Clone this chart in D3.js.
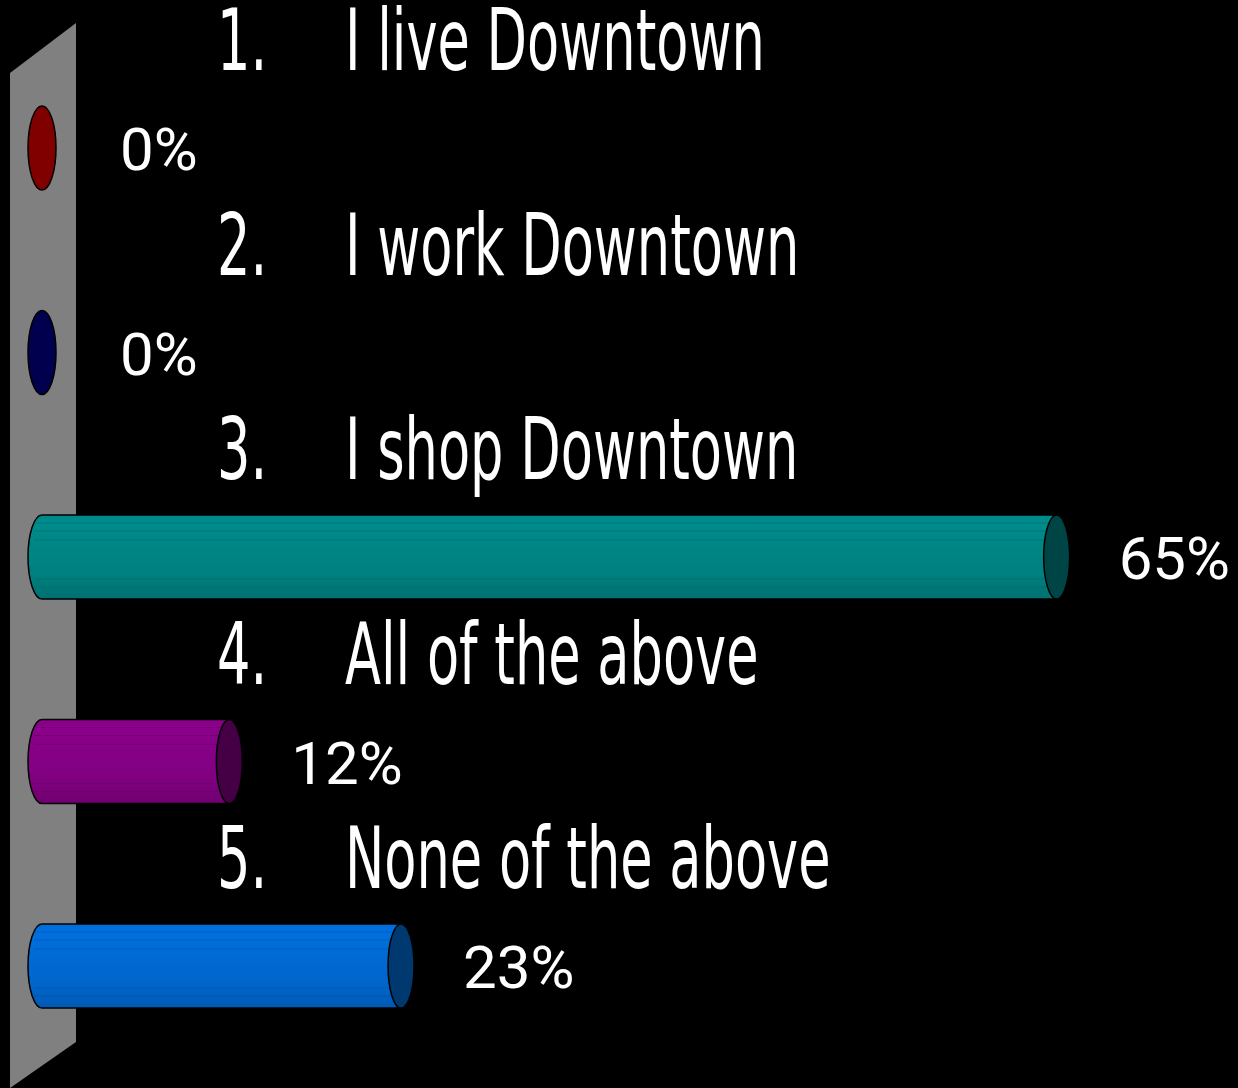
<!DOCTYPE html>
<html>
<head>
<meta charset="utf-8">
<script src="https://cdn.jsdelivr.net/npm/d3@7.9.0/dist/d3.min.js"></script>
<style>
  html, body { margin: 0; padding: 0; background: #000; }
  svg { display: block; }
</style>
</head>
<body>
<div id="chart"></div>
<script>
// ---- data ----
const numbers = ["1.", "2.", "3.", "4.", "5."];
const categories = ["I live Downtown", "I work Downtown", "I shop Downtown", "All of the above", "None of the above"];
const values = [0, 0, 65, 12, 23];
const bodyColors = ["#800000", "#00004f", "#008080", "#800080", "#0066cc"];
const capColors = ["#800000", "#00004f", "#004545", "#450045", "#003870"];

// ---- layout ----
const width = 1238, height = 1088;
const ry = 42, rx = 13;

const svg = d3.select("#chart").append("svg")
  .attr("width", width)
  .attr("height", height)
  .style("background", "#000");

const x = d3.scaleLinear().domain([0, 100]).range([42, 1603]);
const y = d3.scaleBand().domain(categories).range([45.75, 1068.25]);
const cy = c => y(c) + y.bandwidth() / 2;

// grey back wall
svg.append("polygon")
  .attr("points", [[10, 73], [76, 23], [76, 1042], [10, 1088]].map(p => p.join(",")).join(" "))
  .attr("fill", "#808080");

// gradients for cylinder bodies (banded look)
const defs = svg.append("defs");
bodyColors.forEach((col, i) => {
  const c = d3.color(col);
  const g = defs.append("linearGradient")
    .attr("id", "grad" + i)
    .attr("x1", 0).attr("y1", 0).attr("x2", 0).attr("y2", 1);
  const stops = [
    [0, c.brighter(0.15)], [0.08, c.brighter(0.25)], [0.4, c.brighter(0.1)],
    [0.7, c], [1, c.darker(0.35)]
  ];
  stops.forEach(([o, cc]) => g.append("stop").attr("offset", o).attr("stop-color", cc.formatHex()));
});

const rows = categories.map((c, i) => ({ cat: c, num: numbers[i], value: values[i], i }));

const bars = svg.append("g").selectAll("g.bar")
  .data(rows)
  .join("g")
  .attr("class", "bar");

// body
bars.filter(d => d.value > 0).append("path")
  .attr("d", d => {
    const x0 = x(0), x1 = x(d.value), t = cy(d.cat) - ry, b = cy(d.cat) + ry;
    return `M${x0},${t} L${x1},${t} L${x1},${b} L${x0},${b} A${14},${ry} 0 0 1 ${x0},${t} Z`;
  })
  .attr("fill", d => `url(#grad${d.i})`)
  .attr("stroke", "#000")
  .attr("stroke-width", 1.5);

// faint band lines on body
const bandOffsets = [-34, -26, -17, 22, 30];
bars.filter(d => d.value > 0).each(function (d) {
  d3.select(this).selectAll("line.band")
    .data(bandOffsets)
    .join("line")
    .attr("class", "band")
    .attr("x1", x(0) - 8)
    .attr("x2", x(d.value))
    .attr("y1", o => cy(d.cat) + o)
    .attr("y2", o => cy(d.cat) + o)
    .attr("stroke", d3.color(bodyColors[d.i]).darker(0.6).formatHex())
    .attr("stroke-opacity", 0.6)
    .attr("stroke-width", 1);
});

// end cap (or flat disc for 0%)
bars.append("ellipse")
  .attr("cx", d => x(d.value))
  .attr("cy", d => cy(d.cat))
  .attr("rx", d => d.value > 0 ? rx : 14)
  .attr("ry", ry)
  .attr("fill", d => capColors[d.i])
  .attr("stroke", "#000")
  .attr("stroke-width", 1.5);

// value labels
bars.append("text")
  .attr("x", d => x(d.value) + (d.value > 0 ? 62 : 78))
  .attr("y", d => cy(d.cat) + 22)
  .attr("fill", "#fff")
  .attr("font-family", "Roboto, 'Liberation Sans', sans-serif")
  .attr("font-size", 60)
  .text(d => d.value + "%");

// category labels (condensed)
const squeeze = 0.68;
const labels = svg.append("g").selectAll("g.label")
  .data(rows)
  .join("g")
  .attr("class", "label")
  .attr("font-family", "'Liberation Sans Narrow', 'DejaVu Sans Condensed', sans-serif")
  .attr("font-size", 86)
  .attr("fill", "#fff");

labels.append("text")
  .attr("transform", d => `translate(217,${cy(d.cat) - 78}) scale(${squeeze},1)`)
  .text(d => d.num);

labels.append("text")
  .attr("transform", d => `translate(345,${cy(d.cat) - 78}) scale(${squeeze},1)`)
  .text(d => d.cat);
</script>
</body>
</html>
